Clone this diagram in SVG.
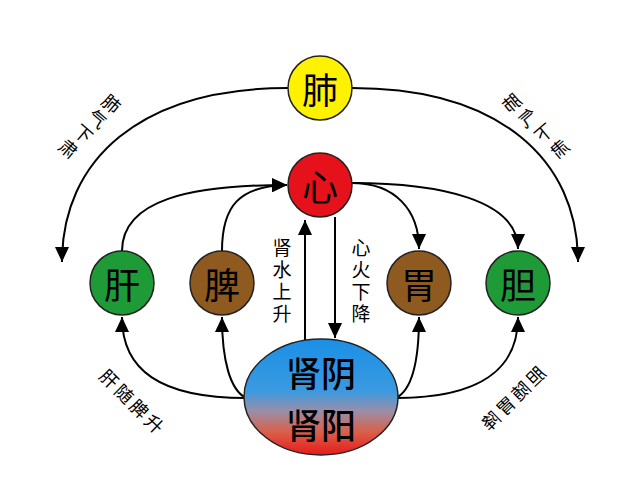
<svg xmlns="http://www.w3.org/2000/svg" width="640" height="498" viewBox="0 0 640 498">
<defs>
<marker id="ah" markerWidth="16" markerHeight="14" refX="15" refY="7" orient="auto" markerUnits="userSpaceOnUse">
<path d="M0,0 L15,7 L0,14 Z" fill="#000"/>
</marker>
<linearGradient id="kg" x1="0" y1="0" x2="0" y2="1">
<stop offset="0" stop-color="#1b8fe6"/>
<stop offset="0.45" stop-color="#3a9ae0"/>
<stop offset="0.62" stop-color="#9a8ea8"/>
<stop offset="0.8" stop-color="#d9604a"/>
<stop offset="1" stop-color="#e81a1a"/>
</linearGradient>
</defs>
<style>
.ln{fill:none;stroke:#000;stroke-width:2}
.nd{stroke:#222;stroke-width:1.5}
.t{font-family:"Noto Sans CJK SC","Noto Sans CJK TC",sans-serif;fill:#000;text-anchor:middle;dominant-baseline:central}
.big{font-size:36px}
.vt{font-family:"Noto Sans CJK SC","Noto Sans CJK TC",sans-serif;fill:#000;font-size:19px;writing-mode:vertical-rl;text-anchor:middle;letter-spacing:3px}
.sm{font-size:18px}
</style>
<rect width="640" height="498" fill="#fff"/>
<g id="connectors">
<path class="ln" d="M288,88 C140,88 62,160 62,262" marker-end="url(#ah)"/>
<path class="ln" d="M352,88 C500,88 578,160 578,262" marker-end="url(#ah)"/>
<path class="ln" d="M122,251 C122,200 190,185 287,185" marker-end="url(#ah)"/>
<path class="ln" d="M222,251 C222,205 240,186 287,185" marker-end="url(#ah)"/>
<path class="ln" d="M352,183 C395,183 419,210 419,249" marker-end="url(#ah)"/>
<path class="ln" d="M352,183 C440,183 518,200 518,249" marker-end="url(#ah)"/>
<path class="ln" d="M305,340 L305,220" marker-end="url(#ah)"/>
<path class="ln" d="M335,217 L335,338" marker-end="url(#ah)"/>
<path class="ln" d="M246,398 C160,398 122,370 122,317" marker-end="url(#ah)"/>
<path class="ln" d="M246,398 C230,390 222,360 222,317" marker-end="url(#ah)"/>
<path class="ln" d="M396,398 C480,398 518,370 518,317" marker-end="url(#ah)"/>
<path class="ln" d="M396,398 C412,390 419,360 419,317" marker-end="url(#ah)"/>
</g>
<g id="fei"><circle class="nd" cx="320" cy="88" r="32" fill="#fff200"/><text class="t big" x="320" y="88">肺</text></g>
<g id="xin"><circle class="nd" cx="320" cy="185" r="32" fill="#e5121b"/><text class="t big" x="320" y="185">心</text></g>
<g id="gan"><circle class="nd" cx="122" cy="283" r="32" fill="#1e9a36"/><text class="t big" x="122" y="283">肝</text></g>
<g id="pi"><circle class="nd" cx="222" cy="283" r="32" fill="#8f5a1f"/><text class="t big" x="222" y="283">脾</text></g>
<g id="wei"><circle class="nd" cx="419" cy="283" r="32" fill="#8f5a1f"/><text class="t big" x="419" y="283">胃</text></g>
<g id="dan"><circle class="nd" cx="518" cy="283" r="32" fill="#1e9a36"/><text class="t big" x="518" y="283">胆</text></g>
<g id="shen"><ellipse class="nd" cx="321" cy="397" rx="77" ry="58" fill="url(#kg)"/>
<text class="t" style="font-size:35px;font-weight:500"><tspan x="321" y="371">肾阴</tspan><tspan x="321" y="423">肾阳</tspan></text></g>
<g id="labels">
<text class="vt" x="282" y="282">肾水上升</text>
<text class="vt" x="361" y="282">心火下降</text>
<text class="t sm" transform="translate(112,103) rotate(40)">肺</text>
<text class="t sm" transform="translate(98,118) rotate(40)">气</text>
<text class="t sm" transform="translate(84,133) rotate(40)">下</text>
<text class="t sm" transform="translate(69,148) rotate(40)">肃</text>
<text class="t sm" transform="translate(511,102) scale(-1,1) rotate(40)">肺</text>
<text class="t sm" transform="translate(527,117) scale(-1,1) rotate(40)">气</text>
<text class="t sm" transform="translate(543,132) scale(-1,1) rotate(40)">下</text>
<text class="t sm" transform="translate(559,148) scale(-1,1) rotate(40)">肃</text>
<text class="t sm" transform="translate(110,378) rotate(44)">肝</text>
<text class="t sm" transform="translate(125,393) rotate(44)">随</text>
<text class="t sm" transform="translate(140,408) rotate(44)">脾</text>
<text class="t sm" transform="translate(155,423) rotate(44)">升</text>
<text class="t sm" transform="translate(535,375) scale(-1,1) rotate(44)">胆</text>
<text class="t sm" transform="translate(520,390) scale(-1,1) rotate(44)">随</text>
<text class="t sm" transform="translate(505,405) scale(-1,1) rotate(44)">胃</text>
<text class="t sm" transform="translate(490,420) scale(-1,1) rotate(44)">降</text>
</g>
</svg>
